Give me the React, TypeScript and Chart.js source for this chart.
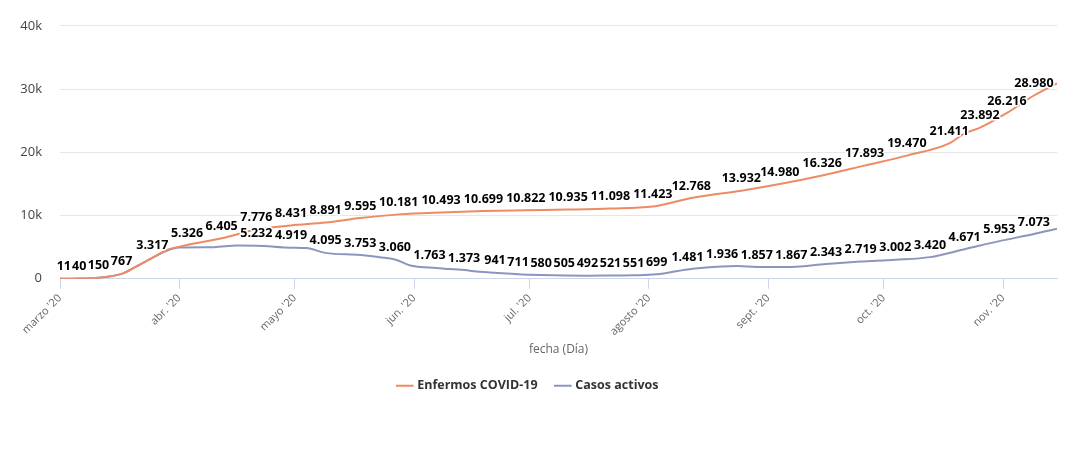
import React, { useEffect, useRef } from 'react';
import { Chart, registerables } from 'chart.js';

Chart.register(...registerables);

// x values are days counted from 1 March 2020
const monthDays = [0, 31, 61, 92, 122, 153, 184, 214, 245];
const monthLabels = ["marzo '20", "abr. '20", "mayo '20", "jun. '20", "jul. '20", "agosto '20", "sept. '20", "oct. '20", "nov. '20"];
const yTickValues = [0, 10000, 20000, 30000, 40000];
const yTickLabels = ['0', '10k', '20k', '30k', '40k'];

const enfermosDays = [0, 1, 5, 10, 16, 20, 24, 28, 33, 42, 51, 60, 69, 78, 88, 99, 110, 121, 132, 143, 154, 158, 164, 177, 187, 198, 209, 220, 231, 235, 239, 246, 253, 259];
const enfermosValues = [0, 11, 40, 150, 767, 2000, 3317, 4600, 5326, 6405, 7776, 8431, 8891, 9595, 10181, 10493, 10699, 10822, 10935, 11098, 11423, 11900, 12768, 13932, 14980, 16326, 17893, 19470, 21411, 23000, 23892, 26216, 28980, 30900];
const enfermosLabeled = [false, true, true, true, true, false, true, false, true, true, true, true, true, true, true, true, true, true, true, true, true, false, true, true, true, true, true, true, true, false, true, true, true, false];

const activosDays = [0, 5, 10, 16, 20, 24, 28, 31, 40, 46, 51, 60, 64, 69, 78, 83, 87, 91, 96, 100, 105, 109, 113, 119, 125, 131, 137, 143, 149, 155, 163, 172, 176, 181, 190, 199, 208, 217, 226, 235, 244, 253, 259];
const activosValues = [0, 40, 150, 767, 2000, 3317, 4500, 4950, 5000, 5250, 5232, 4919, 4850, 4095, 3753, 3400, 3060, 2100, 1763, 1600, 1373, 1100, 941, 711, 580, 505, 492, 521, 551, 699, 1481, 1936, 2000, 1857, 1867, 2343, 2719, 3002, 3420, 4671, 5953, 7073, 7900];
const activosLabeled = [false, false, false, false, false, false, false, false, false, false, true, true, false, true, true, false, true, false, true, false, true, false, true, true, true, true, true, true, true, true, true, true, false, true, true, true, true, true, true, true, true, true, false];

const ORANGE = '#ee8a64';
const BLUE = '#8d95bd';

function fmt(v: number): string {
  return String(Math.round(v)).replace(/\B(?=(\d{3})+(?!\d))/g, '.');
}

const pointLabels = {
  id: 'pointLabels',
  afterDatasetsDraw(chart: any) {
    const ctx = chart.ctx;
    ctx.save();
    ctx.font = 'bold 12.5px "Open Sans"';
    ctx.textAlign = 'center';
    ctx.textBaseline = 'middle';
    ctx.lineJoin = 'round';
    chart.data.datasets.forEach((ds: any, di: number) => {
      const meta = chart.getDatasetMeta(di);
      meta.data.forEach((pt: any, i: number) => {
        if (!ds.showLabel[i]) return;
        const txt = fmt(ds.data[i].y);
        const y = pt.y - 12;
        ctx.lineWidth = 3;
        ctx.strokeStyle = '#ffffff';
        ctx.strokeText(txt, pt.x, y);
        ctx.fillStyle = '#000000';
        ctx.fillText(txt, pt.x, y);
      });
    });
    ctx.restore();
  },
};

export default function App() {
  const canvasRef = useRef<HTMLCanvasElement>(null);

  useEffect(() => {
    if (!canvasRef.current) return;
    const chart = new Chart(canvasRef.current, {
      type: 'line',
      data: {
        datasets: [
          {
            label: 'Enfermos COVID-19',
            data: enfermosDays.map((d, i) => ({ x: d, y: enfermosValues[i] })),
            showLabel: enfermosLabeled,
            borderColor: ORANGE,
            backgroundColor: ORANGE,
            borderWidth: 2,
            pointRadius: 0,
            cubicInterpolationMode: 'monotone',
          } as any,
          {
            label: 'Casos activos',
            data: activosDays.map((d, i) => ({ x: d, y: activosValues[i] })),
            showLabel: activosLabeled,
            borderColor: BLUE,
            backgroundColor: BLUE,
            borderWidth: 2,
            pointRadius: 0,
            cubicInterpolationMode: 'monotone',
          } as any,
        ],
      },
      options: {
        responsive: false,
        animation: false,
        devicePixelRatio: 1,
        layout: { padding: { left: 0, right: 16, top: 18, bottom: 48 } },
        plugins: {
          legend: {
            position: 'bottom',
            labels: {
              usePointStyle: true,
              pointStyle: 'line',
              boxWidth: 16,
              color: '#333333',
              font: { family: '"Open Sans"', size: 12.5, weight: 'bold' },
              padding: 19,
            },
          },
          tooltip: { enabled: false },
        },
        scales: {
          x: {
            type: 'linear',
            min: 0,
            max: 259,
            afterBuildTicks: (s: any) => {
              s.ticks = monthDays.map((v) => ({ value: v }));
            },
            afterFit: (s: any) => {
              s.height = s.height - 3;
            },
            ticks: {
              autoSkip: false,
              minRotation: 45,
              maxRotation: 45,
              color: '#666666',
              font: { family: '"Open Sans"', size: 11 },
              callback: (v: any) => monthLabels[monthDays.indexOf(v)],
            },
            grid: { drawOnChartArea: false, tickLength: 10, color: '#ccd6eb' },
            border: { color: '#ccd6eb' },
            title: {
              display: true,
              text: 'fecha (Día)',
              color: '#666666',
              font: { family: '"Open Sans"', size: 12 },
            },
          },
          y: {
            min: 0,
            max: 40000,
            afterBuildTicks: (s: any) => {
              s.ticks = yTickValues.map((v) => ({ value: v }));
            },
            afterFit: (s: any) => {
              s.width = 60;
            },
            ticks: {
              color: '#444444',
              padding: 18,
              font: { family: '"Open Sans"', size: 13 },
              callback: (v: any) => yTickLabels[yTickValues.indexOf(v)],
            },
            grid: { color: '#e6e6e6', drawTicks: false },
            border: { display: false },
          },
        },
      } as any,
      plugins: [pointLabels],
    });
    return () => chart.destroy();
  }, []);

  return (
    <div style={{ position: 'absolute', left: 0, top: 0, width: 1073, height: 450, background: '#ffffff' }}>
      <canvas ref={canvasRef} width={1073} height={450} />
    </div>
  );
}
